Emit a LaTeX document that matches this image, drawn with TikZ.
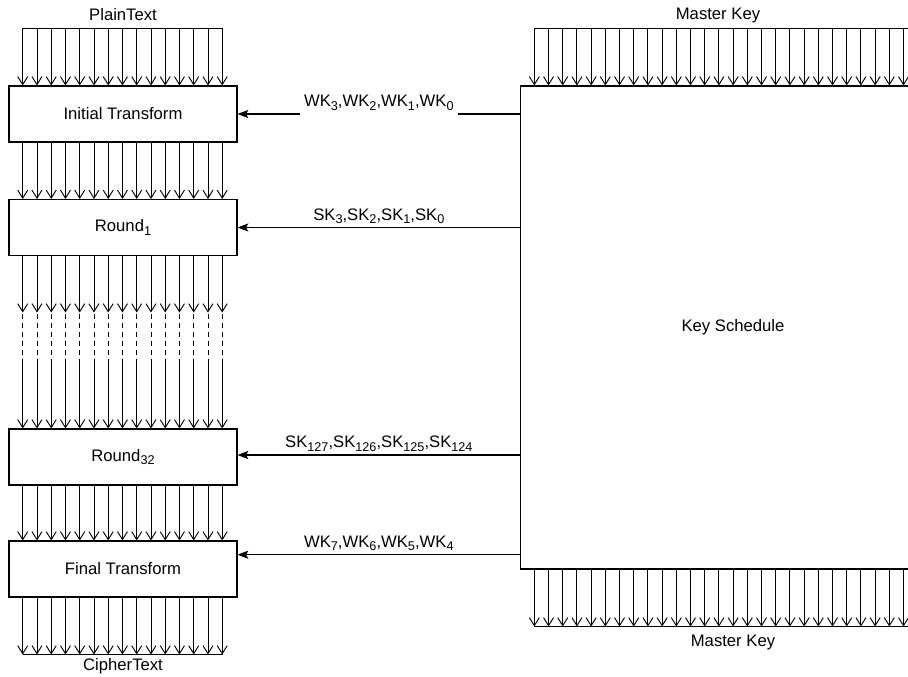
\documentclass[tikz,border=0pt]{standalone}
\usepackage{fontspec}
\setmainfont{Liberation Sans}
\usetikzlibrary{arrows.meta,calc}

\newcommand{\ksub}[1]{\raisebox{-2.6pt}{\fontsize{9.5}{10}\selectfont #1}}

\begin{document}
\begin{tikzpicture}[
    x=0.75pt, y=-0.75pt,
    every node/.style={font=\fontsize{12.5}{14}\selectfont},
    block/.style={
      draw,
      line width=0.8pt,
      minimum width=171pt,
      minimum height=42pt,
      inner sep=0pt
    },
    bus/.style={line width=0.7pt, -{Straight Barb[length=6pt,width=7.5pt]}},
    busline/.style={line width=0.7pt},
    keyarrow/.style={line width=0.8pt, -{Stealth[length=8pt,width=6pt,inset=1.5pt]}},
    keylabel/.style={midway, anchor=base, yshift=5.5pt}
  ]
  \useasboundingbox (0,0) rectangle (908,677);
  \clip (0,0) rectangle (908,677);

  \node (plain) at (123,15) {PlainText};
  \node[block] (init) at (123,114) {Initial Transform};
  \node[block] (round1) at (123,227.5) {Round\ksub{1}};
  \node[block] (round32) at (123,457) {Round\ksub{32}};
  \node[block] (final) at (123,569) {Final Transform};
  \node (cipher) at (123,666) {CipherText};

  \node[block, minimum width=318.5pt, minimum height=362.25pt]
    (keysch) at (733,327.5) {Key Schedule};
  \node (mkeytop) at (718,15) {Master Key};
  \node (mkeybot) at (733,642) {Master Key};

  % data path
  \draw[busline] ($(init.north west)+(14.25,-57)$) -- ($(init.north east)+(-14.25,-57)$);
  \foreach \i in {1,...,15}
    \draw[bus] ($(init.north west)+(14.25*\i,-57)$) -- ($(init.north west)+(14.25*\i,0)$);
  \foreach \i in {1,...,15}
    \draw[bus] ($(init.south west)+(14.25*\i,0)$) -- ($(round1.north west)+(14.25*\i,0)$);
  \foreach \i in {1,...,15} {
    \draw[bus] ($(round1.south west)+(14.25*\i,0)$) -- ($(round1.south west)+(14.25*\i,56.5)$);
    \draw[busline, dash pattern=on 3.75pt off 3pt]
      ($(round1.south west)+(14.25*\i,57.5)$) -- ($(round32.north west)+(14.25*\i,-65)$);
    \draw[bus] ($(round32.north west)+(14.25*\i,-65)$) -- ($(round32.north west)+(14.25*\i,0)$);
  }
  \foreach \i in {1,...,15}
    \draw[bus] ($(round32.south west)+(14.25*\i,0)$) -- ($(final.north west)+(14.25*\i,0)$);
  \foreach \i in {1,...,15}
    \draw[bus] ($(final.south west)+(14.25*\i,0)$) -- ($(final.south west)+(14.25*\i,57)$);
  \draw[busline] ($(final.south west)+(14.25,57)$) -- ($(final.south east)+(-14.25,57)$);

  % master key in and out
  \draw[busline] ($(keysch.north west)+(14.2,-57.3)$) -- ++(420,0);
  \foreach \k in {1,...,30}
    \draw[bus] ($(keysch.north west)+(14.2*\k,-57.3)$) -- ($(keysch.north west)+(14.2*\k,0)$);
  \foreach \k in {1,...,30}
    \draw[bus] ($(keysch.south west)+(14.2*\k,0)$) -- ($(keysch.south west)+(14.2*\k,57)$);
  \draw[busline] ($(keysch.south west)+(14.2,57)$) -- ++(420,0);

  % subkeys
  \draw[keyarrow] (keysch.west |- init.east) -- node[keylabel, fill=white]
    {WK\ksub{3},WK\ksub{2},WK\ksub{1},WK\ksub{0}} (init.east);
  \draw[keyarrow] (keysch.west |- round1.east) -- node[keylabel]
    {SK\ksub{3},SK\ksub{2},SK\ksub{1},SK\ksub{0}} (round1.east);
  \draw[keyarrow] ($(keysch.west |- round32.east)+(0,-2)$) -- node[keylabel]
    {SK\ksub{127},SK\ksub{126},SK\ksub{125},SK\ksub{124}}
    ($(round32.east)+(0,-2)$);
  \draw[keyarrow] (keysch.west |- {$(final.north east)!0.25!(final.south east)$})
    -- node[keylabel]
    {WK\ksub{7},WK\ksub{6},WK\ksub{5},WK\ksub{4}}
    ($(final.north east)!0.25!(final.south east)$);
\end{tikzpicture}
\end{document}
